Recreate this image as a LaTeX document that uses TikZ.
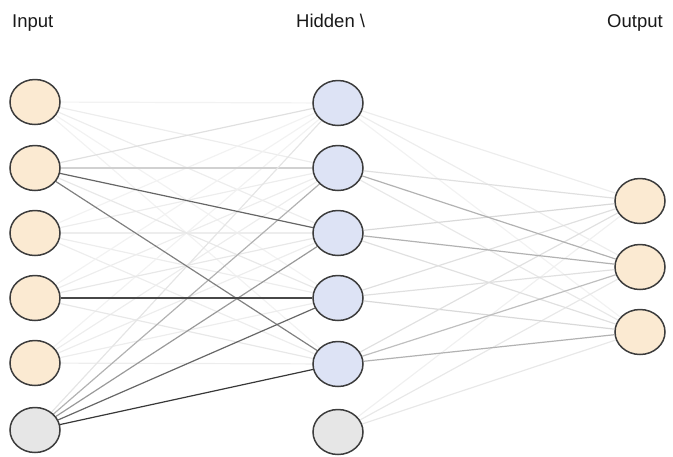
\documentclass[tikz,border=0pt]{standalone}
\usepackage{fontspec}
\setmainfont{Liberation Sans}
\usetikzlibrary{shapes.geometric,backgrounds}
\definecolor{inpfill}{RGB}{251,234,210}
\definecolor{hidfill}{RGB}{221,227,245}
\definecolor{biasfill}{RGB}{230,230,230}
\definecolor{rim}{RGB}{60,60,60}
\tikzset{
  neuron/.style={ellipse,draw=rim,line width=1.5pt,minimum width=50pt,minimum height=45pt,inner sep=0pt},
  inneuron/.style={neuron,fill=inpfill},
  hidneuron/.style={neuron,fill=hidfill},
  biasneuron/.style={neuron,fill=biasfill},
  layerlabel/.style={anchor=base west,inner sep=0pt,font=\fontsize{18.5}{22}\selectfont,text=black!90},
  link/.style={line width=1.2pt,draw=black!#1},
}
\begin{document}
\begin{tikzpicture}[x=1pt,y=-1pt]
\useasboundingbox (0,0) rectangle (673,456);
\node[layerlabel] (tin) at (12,27) {Input};
\node[layerlabel] (thid) at (296,27) {Hidden \textbackslash};
\node[layerlabel] (tout) at (607,27) {Output};
% input layer
\node[inneuron] (i1) at (35,102) {};
\node[inneuron] (i2) at (35,168) {};
\node[inneuron] (i3) at (35,233) {};
\node[inneuron] (i4) at (35,298) {};
\node[inneuron] (i5) at (35,363) {};
\node[biasneuron] (i6) at (35,430) {};
% hidden layer
\node[hidneuron] (h1) at (338,103) {};
\node[hidneuron] (h2) at (338,168) {};
\node[hidneuron] (h3) at (338,233) {};
\node[hidneuron] (h4) at (338,298) {};
\node[hidneuron] (h5) at (338,364) {};
\node[biasneuron] (h6) at (338,432) {};
% output layer
\node[inneuron] (o1) at (640,201) {};
\node[inneuron] (o2) at (640,267) {};
\node[inneuron] (o3) at (640,332) {};
\begin{scope}[on background layer]
% input -> hidden
\foreach \a/\b/\g in {
 i1/h1/5,i1/h2/7,i1/h3/7,i1/h4/5,i1/h5/5,
 i3/h1/5,i3/h2/7,i3/h3/7,i3/h4/7,i3/h5/7,
 i5/h1/5,i5/h2/7,i5/h3/7,i5/h4/7,i5/h5/7,
 i4/h1/5,i4/h2/7,i4/h3/9,i4/h5/9,
 i2/h1/12,i2/h2/18,i2/h4/9,
 i6/h1/10,i6/h2/30,i6/h3/40,
 i2/h5/50,i2/h3/60,i6/h4/60,i4/h4/72,i6/h5/78}
  \draw[link=\g] (\a) -- (\b);
% hidden -> output
\foreach \a/\b/\g in {
 h1/o1/7,h1/o2/7,h1/o3/5,
 h6/o1/6,h6/o2/9,h6/o3/9,
 h2/o1/12,h2/o3/9,
 h3/o1/15,h3/o3/12,
 h4/o1/12,h4/o2/12,h4/o3/15,
 h5/o1/12,
 h5/o2/25,h2/o2/30,h3/o2/30,h5/o3/30}
  \draw[link=\g] (\a) -- (\b);
\end{scope}
\end{tikzpicture}
\end{document}
